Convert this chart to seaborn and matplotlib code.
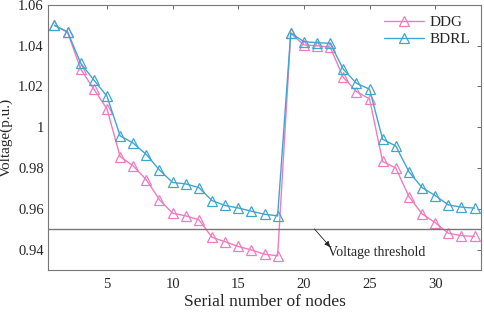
import matplotlib
matplotlib.use("Agg")
from matplotlib import pyplot as plt
import seaborn as sns
import pandas as pd
import numpy as np

nodes = list(range(1, 34))
ddg = [1.050, 1.0466, 1.0285, 1.0187, 1.0090, 0.9856, 0.9810, 0.9742, 0.9644, 0.9578,
       0.9565, 0.9546, 0.9460, 0.9438, 0.9415, 0.9398, 0.9377, 0.9369,
       1.0461, 1.0404, 1.0400, 1.0393, 1.0245, 1.0175, 1.0139, 0.9832, 0.9800,
       0.9660, 0.9575, 0.9532, 0.9480, 0.9468, 0.9464]
bdrl = [1.050, 1.0468, 1.0314, 1.0232, 1.0152, 0.9958, 0.9922, 0.9866, 0.9790, 0.9729,
        0.9722, 0.9704, 0.9640, 0.9616, 0.9604, 0.9588, 0.9573, 0.9565,
        1.0463, 1.0420, 1.0415, 1.0412, 1.0285, 1.0216, 1.0187, 0.9941, 0.9908,
        0.9782, 0.9704, 0.9665, 0.9619, 0.9608, 0.9603]
threshold = 0.95
methods = ["DDG", "BDRL"]
colors = {"DDG": "#f07cc0", "BDRL": "#3fa6d2"}

df = pd.DataFrame({
    "node": nodes * 2,
    "voltage": ddg + bdrl,
    "method": ["DDG"] * len(nodes) + ["BDRL"] * len(nodes),
})

sns.set_style("white")
plt.rcParams["font.family"] = ["Liberation Serif", "DejaVu Serif"]

fig, ax = plt.subplots(figsize=(4.84, 3.12), dpi=100)
fig.subplots_adjust(left=0.099, right=0.994, top=0.984, bottom=0.135)

for m in methods:
    d = df[df["method"] == m]
    sns.lineplot(data=d, x="node", y="voltage", ax=ax, color=colors[m], lw=1.0,
                 marker="^", markersize=7, markerfacecolor="none",
                 markeredgecolor=colors[m], markeredgewidth=0.9, label=m)

ax.axhline(threshold, color="#777777", lw=1.0)
# arrow from the threshold line down to the label
ax.annotate("", xy=(22.0, 0.9413), xytext=(20.8, 0.9501),
            arrowprops=dict(arrowstyle="-|>", color="#222222", lw=0.6,
                            mutation_scale=8, shrinkA=0, shrinkB=0))
ax.text(21.8, 0.9384, "Voltage threshold", fontsize=10, va="center", ha="left")

ax.set_xlim(0.5, 33.5)
ax.set_ylim(0.93, 1.06)
ax.set_xticks([5, 10, 15, 20, 25, 30])
ax.set_yticks([0.94, 0.96, 0.98, 1.0, 1.02, 1.04, 1.06])
ax.set_yticklabels(["0.94", "0.96", "0.98", "1", "1.02", "1.04", "1.06"])
ax.tick_params(direction="in", top=True, right=True, labelsize=10.5, length=3,
               color="#555555", width=0.6, pad=3)
ax.tick_params(axis="x", pad=6)
ax.set_xlabel("Serial number of nodes", fontsize=12.5, labelpad=2)
ax.set_ylabel("Voltage(p.u.)", fontsize=11)
ax.yaxis.set_label_coords(-0.08, 0.5)
for s in ax.spines.values():
    s.set_color("#777777")
    s.set_linewidth(0.8)

ax.legend(loc="upper right", frameon=False, fontsize=11, handlelength=2.6,
          borderaxespad=0.3, labelspacing=0.2, handletextpad=0.4)

fig.savefig("out.png", dpi=100)
